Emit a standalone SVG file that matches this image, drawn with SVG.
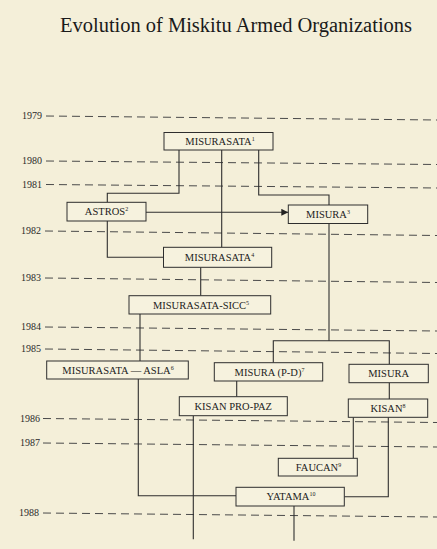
<svg xmlns="http://www.w3.org/2000/svg" width="437" height="549" viewBox="0 0 437 549">
<defs>
<style>
.bg{fill:#f4efd9}
.box{fill:#f6f2de;stroke:#2e2e2e;stroke-width:1}
.lbl{font-family:"Liberation Serif","Times New Roman",serif;font-size:10.5px;fill:#1c1c1c;text-anchor:middle}
.sup{font-size:6px}
.yr{font-family:"Liberation Serif","Times New Roman",serif;font-size:10px;fill:#2a2a2a;text-anchor:end}
.dash{stroke:#4a4a4a;stroke-width:1;stroke-dasharray:8 5;fill:none}
.con{stroke:#2e2e2e;stroke-width:1.1;fill:none}
.title{font-family:"Liberation Serif","Times New Roman",serif;font-size:20px;fill:#1a1a1a}
</style>
<marker id="arr" viewBox="0 0 10 10" refX="10" refY="5" markerWidth="7" markerHeight="7" markerUnits="userSpaceOnUse" orient="auto">
<path d="M0,0 L10,5 L0,10 z" fill="#222"/>
</marker>
</defs>
<rect class="bg" x="0" y="0" width="437" height="549"/>
<text class="title" x="60" y="31.5" textLength="352" lengthAdjust="spacingAndGlyphs">Evolution of Miskitu Armed Organizations</text>

<g id="timeline">
<text class="yr" x="42" y="119">1979</text>
<line class="dash" x1="46" y1="116" x2="437" y2="120"/>
<text class="yr" x="42" y="164">1980</text>
<line class="dash" x1="46" y1="161" x2="437" y2="164.5"/>
<text class="yr" x="42" y="188">1981</text>
<line class="dash" x1="46" y1="184.5" x2="437" y2="188"/>
<text class="yr" x="41" y="234">1982</text>
<line class="dash" x1="45" y1="231" x2="437" y2="235.5"/>
<text class="yr" x="41" y="281">1983</text>
<line class="dash" x1="45" y1="278" x2="437" y2="282.5"/>
<text class="yr" x="41" y="330">1984</text>
<line class="dash" x1="45" y1="327" x2="437" y2="331"/>
<text class="yr" x="41" y="352">1985</text>
<line class="dash" x1="45" y1="349" x2="437" y2="353.5"/>
<text class="yr" x="40" y="421.5">1986</text>
<line class="dash" x1="43" y1="418.5" x2="437" y2="422.5"/>
<text class="yr" x="40" y="446">1987</text>
<line class="dash" x1="43" y1="443" x2="437" y2="447"/>
<text class="yr" x="39" y="516">1988</text>
<line class="dash" x1="43" y1="513" x2="437" y2="517"/>
</g>

<g id="connectors">
<path class="con" d="M179 150 V193.3 H107.3 V202.3"/>
<path class="con" d="M221.7 150 V247.3"/>
<path class="con" d="M258.7 150 V195 H329 V205"/>
<path class="con" d="M145.7 212.3 H288.3" marker-end="url(#arr)"/>
<path class="con" d="M107.3 221 V257.3 H163.5"/>
<path class="con" d="M329 223.5 V340.7"/>
<path class="con" d="M273.3 362.7 V340.7 H389.3 V364.3"/>
<path class="con" d="M200.7 267.3 V295.7"/>
<path class="con" d="M140 314 V361"/>
<path class="con" d="M236.7 381 V396.7"/>
<path class="con" d="M389.3 382.7 V399"/>
<path class="con" d="M138.3 379 V495.7 H236"/>
<path class="con" d="M193.3 415.7 V539.3"/>
<path class="con" d="M353.3 417.3 V458.3"/>
<path class="con" d="M388.3 417.3 V496.7 H344.3"/>
<path class="con" d="M294 506 V540.7"/>
</g>

<g id="misurasata1">
<rect class="box" x="164" y="132.5" width="109" height="17.5"/>
<text class="lbl" x="220" y="145">MISURASATA<tspan class="sup" dy="-4">1</tspan></text>
</g>
<g id="astros">
<rect class="box" x="67" y="202.3" width="79" height="18.7"/>
<text class="lbl" x="106.5" y="215.2">ASTROS<tspan class="sup" dy="-4">2</tspan></text>
</g>
<g id="misura3">
<rect class="box" x="288.3" y="205" width="79.4" height="18.5"/>
<text class="lbl" x="328" y="217.8">MISURA<tspan class="sup" dy="-4">3</tspan></text>
</g>
<g id="misurasata4">
<rect class="box" x="163.5" y="247.3" width="108.2" height="20"/>
<text class="lbl" x="219.5" y="261">MISURASATA<tspan class="sup" dy="-4">4</tspan></text>
</g>
<g id="misurasata-sicc">
<rect class="box" x="129" y="295.7" width="141.7" height="18.3"/>
<text class="lbl" x="201" y="308.5">MISURASATA-SICC<tspan class="sup" dy="-4">5</tspan></text>
</g>
<g id="misurasata-asla">
<rect class="box" x="46.7" y="361" width="141.6" height="18"/>
<text class="lbl" x="118" y="373.6">MISURASATA — ASLA<tspan class="sup" dy="-4">6</tspan></text>
</g>
<g id="misura-pd">
<rect class="box" x="214.3" y="362.7" width="108.4" height="18.3"/>
<text class="lbl" x="269.5" y="375.5">MISURA (P-D)<tspan class="sup" dy="-4">7</tspan></text>
</g>
<g id="misura">
<rect class="box" x="349" y="364.3" width="79.3" height="18.4"/>
<text class="lbl" x="388.7" y="377.1">MISURA</text>
</g>
<g id="kisan-pro-paz">
<rect class="box" x="179.3" y="396.7" width="108" height="19"/>
<text class="lbl" x="233.3" y="409.7">KISAN PRO-PAZ</text>
</g>
<g id="kisan">
<rect class="box" x="348.3" y="399" width="79.4" height="18.3"/>
<text class="lbl" x="388" y="411.8">KISAN<tspan class="sup" dy="-4">8</tspan></text>
</g>
<g id="faucan">
<rect class="box" x="278.3" y="458.3" width="79" height="17.7"/>
<text class="lbl" x="318.5" y="470.8">FAUCAN<tspan class="sup" dy="-4">9</tspan></text>
</g>
<g id="yatama">
<rect class="box" x="236" y="487.3" width="108.3" height="18.7"/>
<text class="lbl" x="291" y="500.3">YATAMA<tspan class="sup" dy="-4">10</tspan></text>
</g>
</svg>
